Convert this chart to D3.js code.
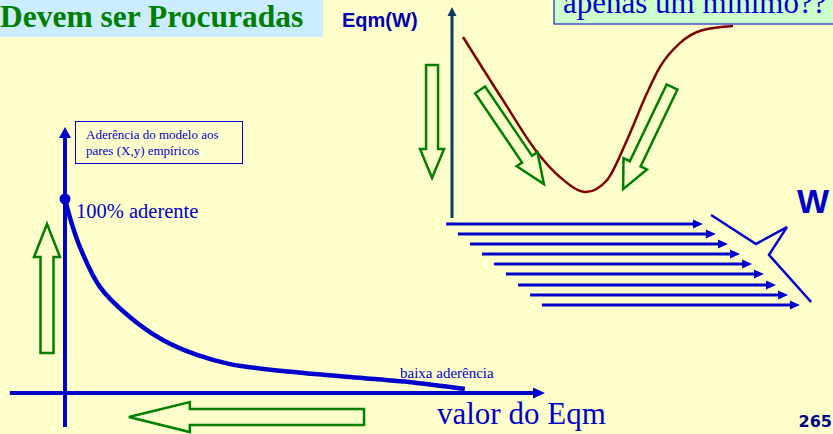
<!DOCTYPE html>
<html><head><meta charset="utf-8">
<script src="https://cdn.jsdelivr.net/npm/d3@7"></script>
<style>html,body{margin:0;padding:0;background:#FFFFCC;overflow:hidden}</style>
</head><body><svg id="c" width="833" height="434"></svg>
<script>
// Left chart: aderência vs valor do Eqm
const eqmValues = [0, 1.0, 3.1, 7.3, 13.5, 20.4, 27.5, 34.4, 45.4, 59.4, 73.3, 83.3];
const aderencia = [100, 90.7, 75.3, 54.6, 39.2, 27.3, 19.6, 14.9, 11.3, 8.2, 5.2, 2.1];
// Right chart: Eqm(W)
const wValues = [3.9, 18.1, 30.2, 38.4, 47.7, 55.2, 62.3, 69.4, 74.0, 81.1, 89.3, 100];
const eqmW = [85.8, 55.9, 31.3, 19.4, 12.3, 18.0, 37.0, 59.2, 71.6, 82.9, 89.1, 91.0];
// W vectors (horizontal arrows)
const vecStart = [-2.1, 2.1, 6.4, 10.7, 14.9, 19.2, 23.5, 27.8, 32.0];
const vecEnd = [89.3, 93.9, 98.2, 102.5, 106.8, 111.0, 115.3, 119.6, 123.8];
const vecLevel = [-2.8, -7.6, -12.3, -17.1, -21.8, -26.5, -31.8, -36.5, -41.2];
// W zigzag mark
const zigW = [92.2, 108.2, 119.2, 112.8, 127.8];
const zigLevel = [1.4, -12.3, -4.3, -17.5, -39.8];
// Green hollow arrows (from -> to, in chart units)
const leftArrowFrom = [[-3.75, 20.6], [62.3, -12.4]];
const leftArrowTo = [[-3.75, 87.1], [13.3, -12.4]];
const rightArrowFrom = [[-7.1, 72.5], [10.0, 60.7], [78.3, 62.1]];
const rightArrowTo = [[-7.1, 19.0], [32.7, 16.1], [60.9, 13.7]];
// Texts
const titleText = "Devem ser Procuradas";
const calloutText = "apenas um mínimo??";
const legendLines = ["Aderência do modelo aos", "pares (X,y) empíricos"];

const BLUE = "#0000CC", GREEN = "#008000", RED = "#800000";
const serif = "Liberation Serif, Times New Roman, serif";
const sans = "Liberation Sans, Arial, sans-serif";
const svg = d3.select("#c");
svg.append("rect").attr("width", 833).attr("height", 434).attr("fill", "#FFFFCC");

const xL = d3.scaleLinear([0, 100], [65, 545]);
const yL = d3.scaleLinear([0, 100], [393, 199]);
const xR = d3.scaleLinear([0, 100], [452, 733]);
const yR = d3.scaleLinear([0, 100], [218, 7]);

function hollowArrow(x0, y0, x1, y1, shaftW, headW, headL) {
  const dx = x1 - x0, dy = y1 - y0, L = Math.hypot(dx, dy);
  const ux = dx / L, uy = dy / L, px = -uy, py = ux, b = L - headL;
  const pts = [[0, -shaftW/2], [b, -shaftW/2], [b, -headW/2], [L, 0], [b, headW/2], [b, shaftW/2], [0, shaftW/2]];
  return pts.map(([a, c]) => [x0 + ux*a + px*c, y0 + uy*a + py*c]);
}
function solidHead(g, x1, y1, ux, uy, len, half, color) {
  const px = -uy, py = ux, bx = x1 - ux*len, by = y1 - uy*len;
  g.append("polygon").attr("points", [[x1, y1], [bx + px*half, by + py*half], [bx - px*half, by - py*half]].map(p => p.join(",")).join(" "))
    .attr("fill", color);
}

// Title
svg.append("rect").attr("x", 0).attr("y", 0).attr("width", 323).attr("height", 37).attr("fill", "#CCECFF");
svg.append("text").attr("x", 0).attr("y", 27).text(titleText)
  .attr("font-family", serif).attr("font-weight", "bold")
  .attr("font-size", 31.5).attr("fill", GREEN);

// Callout
svg.append("rect").attr("x", 554).attr("y", -5).attr("width", 300).attr("height", 29)
  .attr("fill", "#CCFFCC").attr("stroke", "#3333CC").attr("stroke-width", 1.3);
svg.append("text").attr("x", 563).attr("y", 13).text(calloutText)
  .attr("font-family", serif).attr("font-size", 31).attr("fill", BLUE);

// ---------- Left chart ----------
const gL = svg.append("g");
gL.append("line").attr("x1", xL(0)).attr("x2", xL(0)).attr("y1", yL(-17.5)).attr("y2", yL(131.5))
  .attr("stroke", BLUE).attr("stroke-width", 4);
solidHead(gL, xL(0), yL(137.1), 0, -1, 11, 6, BLUE);
gL.append("line").attr("x1", xL(-11.5)).attr("x2", xL(97.9)).attr("y1", yL(0)).attr("y2", yL(0))
  .attr("stroke", BLUE).attr("stroke-width", 4);
solidHead(gL, xL(100), yL(0), 1, 0, 12, 5.5, BLUE);

const lineL = d3.line().x((d, i) => xL(eqmValues[i])).y(d => yL(d)).curve(d3.curveCatmullRom.alpha(0.5));
gL.append("path").attr("d", lineL(aderencia)).attr("fill", "none").attr("stroke", BLUE).attr("stroke-width", 4.5);
gL.append("circle").attr("cx", xL(eqmValues[0])).attr("cy", yL(aderencia[0])).attr("r", 5.5).attr("fill", BLUE);

gL.append("rect").attr("x", 75.5).attr("y", 121.5).attr("width", 167).attr("height", 42)
  .attr("fill", "none").attr("stroke", BLUE).attr("stroke-width", 1);
legendLines.forEach((t, i) => gL.append("text").attr("x", 86).attr("y", 139 + i*16).text(t)
  .attr("font-family", serif).attr("font-size", 13).attr("fill", BLUE));

gL.append("text").attr("x", 76).attr("y", 218).text("100% aderente")
  .attr("font-family", serif).attr("font-size", 20.5).attr("fill", BLUE);
gL.append("text").attr("x", 400).attr("y", 378).text("baixa aderência")
  .attr("font-family", serif).attr("font-size", 15).attr("fill", BLUE);
gL.append("text").attr("x", 437).attr("y", 424).text("valor do Eqm")
  .attr("font-family", serif).attr("font-size", 31).attr("fill", BLUE);

const leftDims = [[13, 26, 33], [16, 30, 61]];
leftArrowFrom.forEach((f, i) => {
  const t = leftArrowTo[i], d = leftDims[i];
  const pts = hollowArrow(xL(f[0]), yL(f[1]), xL(t[0]), yL(t[1]), d[0], d[1], d[2]);
  gL.append("polygon").attr("points", pts.map(p => p.join(",")).join(" "))
    .attr("fill", "none").attr("stroke", GREEN).attr("stroke-width", 2.5);
});

// ---------- Right chart ----------
const gR = svg.append("g");
gR.append("line").attr("x1", xR(0)).attr("x2", xR(0)).attr("y1", yR(0)).attr("y2", yR(96))
  .attr("stroke", "#0D3B66").attr("stroke-width", 3);
solidHead(gR, xR(0), yR(100), 0, -1, 9, 4.5, "#0D3B66");

svg.append("text").attr("x", 342).attr("y", 27).text("Eqm(W)")
  .attr("font-family", sans).attr("font-weight", "bold")
  .attr("font-size", 20).attr("fill", "#0000B0");

const lineR = d3.line().x((d, i) => xR(wValues[i])).y(d => yR(d)).curve(d3.curveMonotoneX);
gR.append("path").attr("d", lineR(eqmW)).attr("fill", "none").attr("stroke", RED).attr("stroke-width", 2.5);

vecStart.forEach((s, i) => {
  const x0 = xR(s), x1 = xR(vecEnd[i]), y = yR(vecLevel[i]);
  gR.append("line").attr("x1", x0).attr("x2", x1 - 8).attr("y1", y).attr("y2", y)
    .attr("stroke", BLUE).attr("stroke-width", 3);
  solidHead(gR, x1, y, 1, 0, 10, 4.5, BLUE);
});
const zig = d3.line().x((d, i) => xR(zigW[i])).y(d => yR(d));
gR.append("path").attr("d", zig(zigLevel)).attr("fill", "none").attr("stroke", BLUE).attr("stroke-width", 2.5);

svg.append("text").attr("x", 797).attr("y", 213).text("W")
  .attr("font-family", sans).attr("font-weight", "bold")
  .attr("font-size", 34).attr("fill", BLUE);

const rightDims = [[12, 24, 29], [12, 25, 30], [12, 26, 28]];
rightArrowFrom.forEach((f, i) => {
  const t = rightArrowTo[i], d = rightDims[i];
  const pts = hollowArrow(xR(f[0]), yR(f[1]), xR(t[0]), yR(t[1]), d[0], d[1], d[2]);
  gR.append("polygon").attr("points", pts.map(p => p.join(",")).join(" "))
    .attr("fill", "none").attr("stroke", GREEN).attr("stroke-width", 2.5);
});

svg.append("text").attr("x", 832).attr("y", 427).attr("text-anchor", "end").text("265")
  .attr("font-family", "DejaVu Sans, Verdana, sans-serif").attr("font-weight", "bold")
  .attr("font-size", 16).attr("fill", "#00008B");
</script></body></html>
